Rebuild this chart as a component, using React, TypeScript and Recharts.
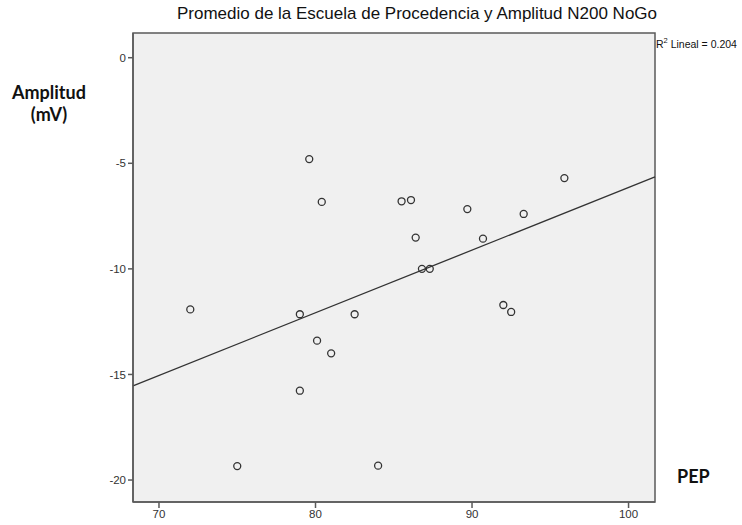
import React from "react";
import {
  ScatterChart,
  Scatter,
  XAxis,
  YAxis,
  ReferenceLine,
  ReferenceArea,
} from "recharts";

// PEP (promedio escuela de procedencia) vs amplitud N200 NoGo
const pep = [
  79.6, 80.4, 85.5, 86.1, 89.7, 93.3, 86.4, 90.7, 86.8, 87.3, 72.0, 79.0, 82.5,
  92.0, 92.5, 80.1, 81.0, 79.0, 75.0, 84.0, 95.9,
];
const amplitud = [
  -4.8, -6.83, -6.8, -6.74, -7.17, -7.4, -8.52, -8.57, -10.0, -10.0, -11.92,
  -12.15, -12.15, -11.71, -12.04, -13.4, -14.0, -15.77, -19.34, -19.32, -5.7,
];
const xTicks = [70, 80, 90, 100];
const yTicks = [0, -5, -10, -15, -20];
const xDomain: [number, number] = [68.34, 101.69];
const yDomain: [number, number] = [-21.04, 1.17];
const r2Text = "0.204";

const points = pep.map((x, i) => ({ x, y: amplitud[i] }));

// least-squares fit line
const n = pep.length;
const mx = pep.reduce((a, b) => a + b, 0) / n;
const my = amplitud.reduce((a, b) => a + b, 0) / n;
let sxy = 0;
let sxx = 0;
for (let i = 0; i < n; i++) {
  sxy += (pep[i] - mx) * (amplitud[i] - my);
  sxx += (pep[i] - mx) * (pep[i] - mx);
}
const slope = sxy / sxx;
const intercept = my - slope * mx;
const fitAt = (x: number) => intercept + slope * x;

const tickStyle = { fontSize: 11.5, fill: "#333", fontFamily: "Liberation Sans, Arial, sans-serif" };

const axisTitle: React.CSSProperties = {
  position: "absolute",
  fontFamily: "Lato, sans-serif",
  fontWeight: 700,
  fontSize: 18,
  color: "#111",
  textAlign: "center",
  lineHeight: "22px",
};

export default function App() {
  return (
    <div
      style={{
        position: "absolute",
        left: 0,
        top: 0,
        width: 742,
        height: 525,
        background: "#fff",
      }}
    >
      <div
        style={{
          position: "absolute",
          left: 0,
          width: 834,
          top: 4,
          textAlign: "center",
          fontFamily: "Liberation Sans, Arial, sans-serif",
          fontSize: 17,
          color: "#111",
        }}
      >
        Promedio de la Escuela de Procedencia y Amplitud N200 NoGo
      </div>
      <div
        style={{
          position: "absolute",
          left: 656,
          top: 36,
          fontFamily: "Liberation Sans, Arial, sans-serif",
          fontSize: 10.5,
          color: "#111",
          whiteSpace: "nowrap",
        }}
      >
        R<sup style={{ fontSize: 7.5 }}>2</sup> Lineal = {r2Text}
      </div>
      <div style={{ ...axisTitle, left: 8, top: 81, width: 82 }}>
        Amplitud
        <br />
        (mV)
      </div>
      <div style={{ ...axisTitle, left: 677, top: 465 }}>PEP</div>
      <ScatterChart
        width={742}
        height={525}
        margin={{ top: 33, right: 87, bottom: 0, left: 90 }}
      >
        <ReferenceArea
          x1={xDomain[0]}
          x2={xDomain[1]}
          y1={yDomain[0]}
          y2={yDomain[1]}
          fill="#f0f0f0"
          fillOpacity={1}
          stroke="#5a5a5a"
          strokeWidth={1.5}
        />
        <XAxis
          type="number"
          dataKey="x"
          domain={xDomain}
          ticks={xTicks}
          allowDataOverflow
          height={23}
          tickSize={6}
          tickMargin={2}
          tick={tickStyle}
          stroke="#5a5a5a"
          strokeWidth={1.5}
        />
        <YAxis
          type="number"
          dataKey="y"
          domain={yDomain}
          ticks={yTicks}
          allowDataOverflow
          width={43}
          tickSize={5}
          tickMargin={2}
          tick={tickStyle}
          stroke="#5a5a5a"
          strokeWidth={1.5}
        />
        <ReferenceLine
          segment={[
            { x: xDomain[0], y: fitAt(xDomain[0]) },
            { x: xDomain[1], y: fitAt(xDomain[1]) },
          ]}
          stroke="#333"
          strokeWidth={1.3}
          ifOverflow="visible"
        />
        <Scatter
          data={points}
          isAnimationActive={false}
          shape={(props: any) => (
            <circle
              cx={props.cx}
              cy={props.cy}
              r={3.5}
              fill="none"
              stroke="#333"
              strokeWidth={1.3}
            />
          )}
        />
      </ScatterChart>
    </div>
  );
}
